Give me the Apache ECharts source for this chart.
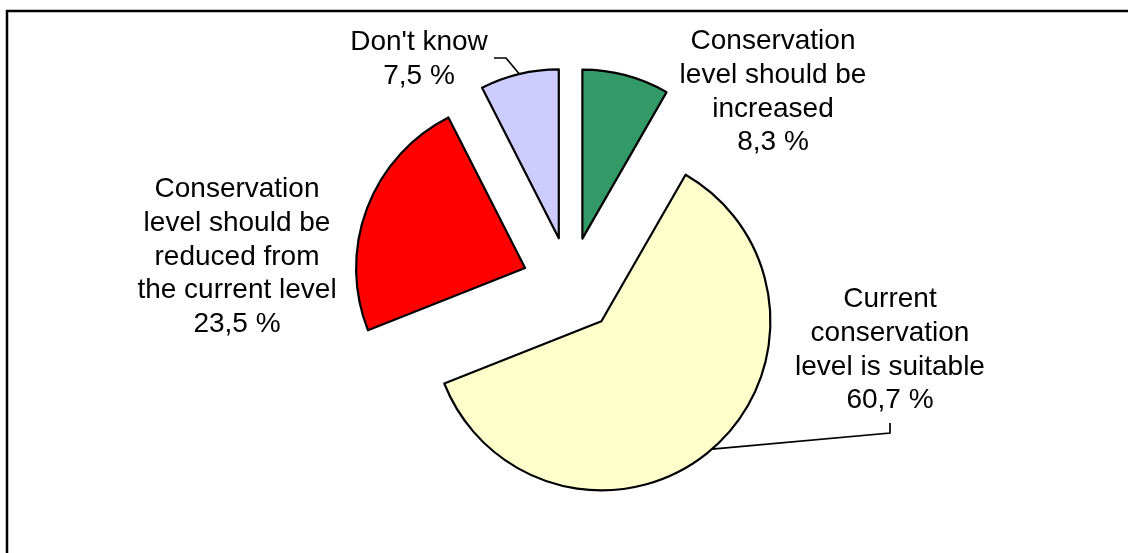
<!DOCTYPE html>
<html>
<head>
<meta charset="utf-8">
<script src="https://cdn.jsdelivr.net/npm/echarts@6/dist/echarts.min.js"></script>
<style>
  html, body { margin: 0; padding: 0; background: #fff; }
  #chart { width: 1128px; height: 553px; }
</style>
</head>
<body>
<div id="chart"></div>
<script>
// Survey answers, clockwise from 12 o'clock
const categories = [
  'Conservation\nlevel should be\nincreased',
  'Current\nconservation\nlevel is suitable',
  'Conservation\nlevel should be\nreduced from\nthe current level',
  "Don't know"
];
const values = [8.3, 60.7, 23.5, 7.5];
const colors = ['#339966', '#FFFFCC', '#FF0000', '#CCCCFF'];

// Layout
const CENTER = [570, 285];
const RADIUS = 169;
const OFFSET = 48;
const labelPos = [[773, 92], [890, 350], [237, 257], [419, 59]];
const leaderBends = [null, [[890, 433], [890, 423]], null, [[506, 58], [494, 58]]];
const FONT = { fontFamily: 'Liberation Sans, Arial, sans-serif', fontSize: 28, lineHeight: 33.7 };

const total = values.reduce((a, b) => a + b, 0);
const midAngles = [];
let acc = 0;
values.forEach(v => { midAngles.push((acc + v / 2) / total * 2 * Math.PI); acc += v; });

// point on the outer arc of an exploded slice, at its mid angle
function arcPoint(i) {
  const a = midAngles[i];
  const cx = CENTER[0] + OFFSET * Math.sin(a);
  const cy = CENTER[1] - OFFSET * Math.cos(a);
  return [cx + RADIUS * Math.sin(a), cy - RADIUS * Math.cos(a)];
}

const fmt = v => String(v).replace('.', ',') + ' %';

const labelTexts = categories.map((name, i) => ({
  type: 'text',
  z: 10,
  silent: true,
  style: Object.assign({
    text: name + '\n' + fmt(values[i]),
    x: labelPos[i][0],
    y: labelPos[i][1],
    align: 'center',
    verticalAlign: 'middle',
    fill: '#000'
  }, FONT)
}));

const leaderLines = [];
leaderBends.forEach((bend, i) => {
  if (!bend) return;
  leaderLines.push({
    type: 'polyline',
    z: 10,
    silent: true,
    shape: { points: [arcPoint(i), bend[0], bend[1]] },
    style: { stroke: '#000', lineWidth: 1.7, fill: null }
  });
});

const chart = echarts.init(document.getElementById('chart'), null, { renderer: 'canvas' });
chart.setOption({
  animation: false,
  backgroundColor: '#fff',
  graphic: [{
    type: 'rect',
    silent: true,
    shape: { x: 7, y: 11, width: 1300, height: 700 },
    style: { fill: 'none', stroke: '#000', lineWidth: 2.5 }
  }].concat(leaderLines, labelTexts),
  series: [{
    type: 'pie',
    center: CENTER,
    radius: RADIUS,
    startAngle: 90,
    clockwise: true,
    selectedMode: 'multiple',
    selectedOffset: OFFSET,
    avoidLabelOverlap: false,
    itemStyle: { borderColor: '#000', borderWidth: 2.2 },
    emphasis: { disabled: true },
    label: { show: false },
    labelLine: { show: false },
    data: categories.map((name, i) => ({
      name,
      value: values[i],
      selected: true,
      itemStyle: { color: colors[i] }
    }))
  }]
});
</script>
</body>
</html>
